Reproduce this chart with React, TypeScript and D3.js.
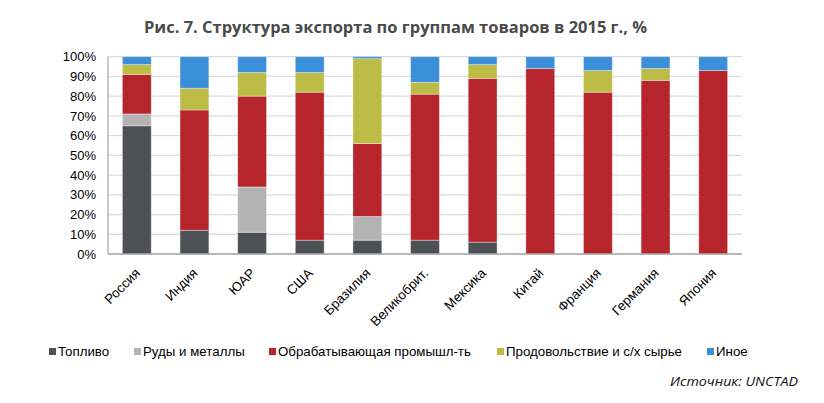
import React from "react";
import * as d3 from "d3";

const categories = ["Россия", "Индия", "ЮАР", "США", "Бразилия", "Великобрит.", "Мексика", "Китай", "Франция", "Германия", "Япония"];
const fuel = [65, 12, 11, 7, 7, 7, 6, 0, 0, 0, 0];
const ores = [6, 0, 23, 0, 12, 0, 0, 0, 0, 0, 0];
const manuf = [20, 61, 46, 75, 37, 74, 83, 94, 82, 88, 93];
const food = [5, 11, 12, 10, 43, 6, 7, 0, 11, 6, 0];
const other = [4, 16, 8, 8, 1, 13, 4, 6, 7, 6, 7];
const seriesNames = ["Топливо", "Руды и металлы", "Обрабатывающая промышл-ть", "Продовольствие и с/х сырье", "Иное"];
const seriesKeys = ["fuel", "ores", "manuf", "food", "other"];
const yTicks = [0, 10, 20, 30, 40, 50, 60, 70, 80, 90, 100];
const title = "Рис. 7. Структура экспорта по группам товаров в 2015 г., %";
const source = "Источник: UNCTAD";

const colors = ["#4d5054", "#b3b3b3", "#b5252b", "#bbbb45", "#3b8fd8"];
const legendX = [49, 134, 269, 497, 707];

export default function App() {
  const W = 824, H = 403;
  const left = 108, right = 742, top = 56.7, bottom = 254;
  const rows = categories.map((c, i) => ({
    cat: c, fuel: fuel[i], ores: ores[i], manuf: manuf[i], food: food[i], other: other[i],
  }));
  const stacked = d3.stack<any>().keys(seriesKeys)(rows);
  const x = d3.scaleBand().domain(categories).range([left, right]).paddingInner(0.5).paddingOuter(0.25);
  const y = d3.scaleLinear().domain([0, 100]).range([bottom, top]);
  const font = "'Liberation Sans', Arial, sans-serif";

  return (
    <svg width={W} height={H} style={{ position: "absolute", left: 0, top: 0, background: "#fff" }}>
      <text x={144} y={33} fontFamily="'Open Sans', sans-serif" fontWeight={700} fontSize={16.5}
        fill="#4a4a4a" textLength={503} lengthAdjust="spacingAndGlyphs">{title}</text>

      {yTicks.map((t) => (
        <g key={t}>
          {t > 0 && <line x1={left} x2={right} y1={y(t)} y2={y(t)} stroke="#dcdcdc" strokeWidth={1.3} />}
          <text x={96} y={y(t)} dy="0.36em" textAnchor="end" fontFamily={font} fontSize={13} fill="#000">{t}%</text>
        </g>
      ))}

      {stacked.map((s, si) => (
        <g key={s.key}>
          {s.map((d, i) => {
            const h = y(d[0]) - y(d[1]);
            if (h <= 0) return null;
            return (
              <rect key={i} x={x(categories[i])} y={y(d[1])} width={x.bandwidth()} height={h}
                fill={colors[si]} stroke="rgba(255,255,255,0.35)" strokeWidth={1} />
            );
          })}
        </g>
      ))}

      <line x1={left} x2={left} y1={top} y2={bottom} stroke="#a6a6a6" strokeWidth={1.2} />
      <line x1={left} x2={right} y1={bottom} y2={bottom} stroke="#a0a0a0" strokeWidth={1.5} />

      {categories.map((c) => {
        const cx = (x(c) as number) + x.bandwidth() / 2;
        return (
          <text key={c} transform={`translate(${cx + 4},${274}) rotate(-45)`} textAnchor="end"
            fontFamily={font} fontSize={13.3} fill="#000">{c}</text>
        );
      })}

      {seriesNames.map((n, i) => (
        <g key={n}>
          <rect x={legendX[i]} y={348} width={7} height={7} fill={colors[i]} />
          <text x={legendX[i] + 9} y={356} fontFamily={font} fontSize={13.3} fill="#000">{n}</text>
        </g>
      ))}

      <text x={670} y={386} fontFamily="'Open Sans', sans-serif" fontStyle="italic" fontSize={13}
        fill="#111" textLength={128} lengthAdjust="spacingAndGlyphs">{source}</text>
    </svg>
  );
}
